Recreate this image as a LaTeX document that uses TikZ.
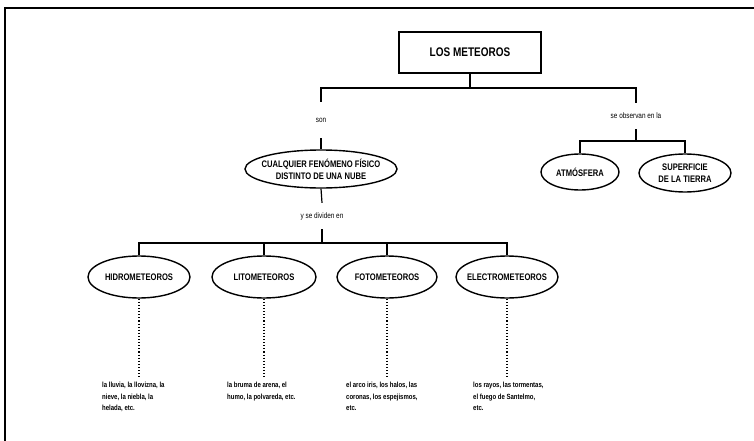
\documentclass[tikz,border=0pt]{standalone}
\usepackage{fontspec}
\newfontfamily\cond{Liberation Sans}[FakeStretch=0.8]
\usetikzlibrary{shapes.geometric}
\begin{document}
\begin{tikzpicture}[x=1pt,y=-1pt,
  conn/.style={line width=1.2pt},
  oval/.style={ellipse, draw, line width=1.4pt, inner sep=0pt},
  ovaltxt/.style={align=center, inner sep=0pt, font=\cond\bfseries\fontsize{9.5}{12}\selectfont},
  lbl/.style={inner xsep=1pt, inner ysep=0pt, font=\cond\fontsize{8}{9}\selectfont},
  ex/.style={anchor=north west, inner sep=0pt, align=left, font=\cond\bfseries\fontsize{7.5}{11.5}\selectfont},
  dots/.style={dotted, line width=1.1pt},
]
\useasboundingbox (0,0) rectangle (754,441);
\draw[line width=2pt] (5,441) -- (5,8) -- (754,8);

% top box
\node[draw, line width=1.4pt, minimum width=142pt, minimum height=41pt, inner sep=0pt,
      font=\cond\bfseries\fontsize{12.5}{14}\selectfont] (top) at (470,52.5) {LOS METEOROS};
\coordinate (jm) at (470,88);

% labels
\node[lbl, minimum height=36pt] (son) at (321,120) {son};
\node[lbl, minimum height=26pt] (obs) at (636,116) {se observan en la};

\draw[conn] (top.south) -- (jm);
\draw[conn] (son.north) -- (son.north |- jm) -- (obs.north |- jm) -- (obs.north);

% ellipse level 1
\node[oval, minimum width=152pt, minimum height=38pt,
      label={[ovaltxt]center:CUALQUIER FENÓMENO FÍSICO\\DISTINTO DE UNA NUBE}] (cual) at (321,169) {};
\draw[conn] (son.south) -- (cual.north);

\node[oval, minimum width=78pt, minimum height=36pt,
      label={[ovaltxt]center:ATMÓSFERA}] (atm) at (580,172) {};
\node[oval, minimum width=92pt, minimum height=38pt,
      label={[ovaltxt]center:SUPERFICIE\\DE LA TIERRA}] (sup) at (685,173) {};
\coordinate (jo) at (636,141);
\draw[conn] (obs.south) -- (jo);
\draw[conn] (atm.north) |- (jo) -| (sup.north);

% divide
\node[lbl, minimum height=26pt] (ydiv) at (322,216) {y se dividen en};
\draw[conn] (cual.south) -- (ydiv.north);
\coordinate (jd) at (322,243);
\draw[conn] (ydiv.south) -- (jd);

% children
\node[oval, minimum width=102pt, minimum height=42pt,
      label={[ovaltxt]center:HIDROMETEOROS}] (hid) at (139,277) {};
\node[oval, minimum width=104pt, minimum height=42pt,
      label={[ovaltxt]center:LITOMETEOROS}] (lit) at (264,277) {};
\node[oval, minimum width=100pt, minimum height=42pt,
      label={[ovaltxt]center:FOTOMETEOROS}] (fot) at (387,277) {};
\node[oval, minimum width=102pt, minimum height=42pt,
      label={[ovaltxt]center:ELECTROMETEOROS}] (ele) at (507,277) {};
\draw[conn] (hid.north) |- (jd) -| (ele.north);
\draw[conn] (lit.north) -- (lit.north |- jd);
\draw[conn] (fot.north) -- (fot.north |- jd);

% examples
\coordinate (d1) at (139,377);
\coordinate (d2) at (264,377);
\coordinate (d3) at (387,377);
\coordinate (d4) at (507,377);
\draw[dots] (hid.south) -- (d1);
\draw[dots] (lit.south) -- (d2);
\draw[dots] (fot.south) -- (d3);
\draw[dots] (ele.south) -- (d4);
\node[ex] (e1) at (102,382) {la lluvia, la llovizna, la\\nieve, la niebla, la\\helada, etc.};
\node[ex] (e2) at (227,382) {la bruma de arena, el\\humo, la polvareda, etc.};
\node[ex] (e3) at (346,382) {el arco iris, los halos, las\\coronas, los espejismos,\\etc.};
\node[ex] (e4) at (473,382) {los rayos, las tormentas,\\el fuego de Santelmo,\\etc.};
\end{tikzpicture}
\end{document}
